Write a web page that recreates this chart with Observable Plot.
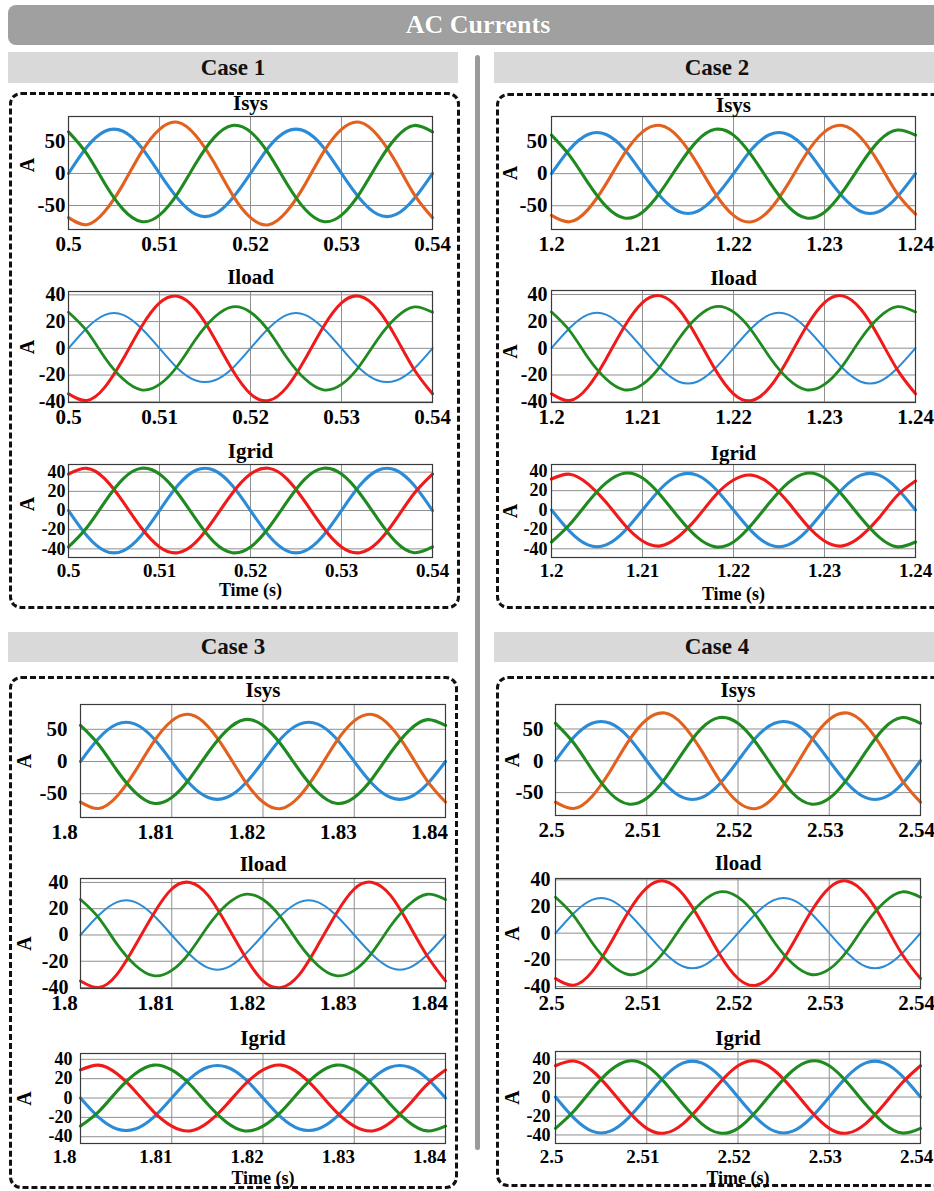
<!DOCTYPE html>
<html>
<head>
<meta charset="utf-8">
<script src="https://cdn.jsdelivr.net/npm/d3@7"></script>
<script src="https://cdn.jsdelivr.net/npm/@observablehq/plot@0.6"></script>
<style>
  html, body { margin: 0; padding: 0; background: #fff; }
  #root { position: relative; width: 934px; height: 1191px; overflow: hidden;
          font-family: "Liberation Serif", "Times New Roman", serif; font-weight: bold; }
  .abs { position: absolute; box-sizing: border-box; }
  .hdr { display: flex; align-items: center; justify-content: center; }
</style>
</head>
<body>
<div id="root"></div>
<script>
// ---------------- DATA ----------------
const mainTitle = "AC Currents";
const caseNames = ["Case 1", "Case 2", "Case 3", "Case 4"];
const panelTitles = ["Isys", "Iload", "Igrid"];
const caseStarts = [0.5, 1.2, 1.8, 2.5];
const xTicksCase1 = [0.5, 0.51, 0.52, 0.53, 0.54];
const xTicksCase2 = [1.2, 1.21, 1.22, 1.23, 1.24];
const xTicksCase3 = [1.8, 1.81, 1.82, 1.83, 1.84];
const xTicksCase4 = [2.5, 2.51, 2.52, 2.53, 2.54];
const yTicksIsys = [-50, 0, 50];
const yTicksIload = [-40, -20, 0, 20, 40];
const yTicksIgrid = [-40, -20, 0, 20, 40];
// time offsets (s) from each window start
const tOffsets = [0, 0.002, 0.004, 0.006, 0.008, 0.010, 0.012, 0.014, 0.016, 0.018, 0.020,
                  0.022, 0.024, 0.026, 0.028, 0.030, 0.032, 0.034, 0.036, 0.038, 0.040];

// Case 1
const c1IsysBlue   = [0, 41, 66, 66, 41, 0, -39, -64, -64, -39, 0, 41, 66, 66, 41, 0, -39, -64, -64, -39, 0];
const c1IsysOrange = [-69, -80, -59, -17, 33, 69, 80, 59, 17, -33, -69, -80, -59, -17, 33, 69, 80, 59, 17, -33, -69];
const c1IsysGreen  = [65, 31, -16, -56, -75, -65, -31, 16, 56, 75, 65, 31, -16, -56, -75, -65, -31, 16, 56, 75, 65];
const c1IloadBlue  = [0, 15, 25, 25, 15, 0, -15, -24, -24, -15, 0, 15, 25, 25, 15, 0, -15, -24, -24, -15, 0];
const c1IloadRed   = [-34, -39, -29, -8, 16, 34, 39, 29, 8, -16, -34, -39, -29, -8, 16, 34, 39, 29, 8, -16, -34];
const c1IloadGreen = [27, 13, -7, -23, -31, -27, -13, 7, 23, 31, 27, 13, -7, -23, -31, -27, -13, 7, 23, 31, 27];
const c1IgridBlue  = [0, -26, -42, -42, -26, 0, 26, 42, 42, 26, 0, -26, -42, -42, -26, 0, 26, 42, 42, 26, 0];
const c1IgridRed   = [38, 44, 33, 9, -18, -38, -44, -33, -9, 18, 38, 44, 33, 9, -18, -38, -44, -33, -9, 18, 38];
const c1IgridGreen = [-38, -18, 9, 33, 44, 38, 18, -9, -33, -44, -38, -18, 9, 33, 44, 38, 18, -9, -33, -44, -38];

// Case 2
const c2IsysBlue   = [0, 38, 61, 61, 38, 0, -36, -59, -59, -36, 0, 38, 61, 61, 38, 0, -36, -59, -59, -36, 0];
const c2IsysOrange = [-65, -75, -56, -16, 31, 65, 75, 56, 16, -31, -65, -75, -56, -16, 31, 65, 75, 56, 16, -31, -63];
const c2IsysGreen  = [60, 28, -14, -51, -69, -60, -28, 14, 51, 69, 60, 28, -14, -51, -69, -60, -28, 14, 51, 68, 60];
const c2IloadBlue  = [0, 15, 25, 25, 15, 0, -15, -25, -25, -15, 0, 15, 25, 25, 15, 0, -15, -25, -25, -15, 0];
const c2IloadRed   = [-34, -39, -29, -8, 16, 34, 39, 29, 8, -16, -34, -39, -29, -8, 16, 34, 39, 29, 8, -16, -34];
const c2IloadGreen = [27, 13, -7, -23, -31, -27, -13, 7, 23, 31, 27, 13, -7, -23, -31, -27, -13, 7, 23, 31, 27];
const c2IgridBlue  = [0, -22, -36, -36, -22, 0, 22, 36, 36, 22, 0, -22, -36, -36, -22, 0, 22, 36, 36, 22, 0];
const c2IgridRed   = [32, 37, 27, 8, -15, -32, -37, -27, -8, 15, 31, 36, 27, 8, -15, -32, -37, -27, -8, 15, 30];
const c2IgridGreen = [-33, -15, 8, 28, 38, 33, 15, -8, -28, -38, -33, -15, 8, 28, 38, 33, 15, -8, -28, -38, -33];

// Case 3
const c3IsysBlue   = [0, 36, 58, 58, 36, 0, -35, -56, -56, -35, 0, 36, 58, 58, 36, 0, -35, -56, -56, -35, 0];
const c3IsysOrange = [-63, -73, -54, -15, 30, 63, 73, 54, 15, -30, -63, -73, -54, -15, 30, 63, 73, 54, 15, -30, -63];
const c3IsysGreen  = [56, 26, -14, -48, -65, -56, -26, 14, 48, 65, 56, 26, -14, -48, -65, -56, -26, 14, 48, 65, 56];
const c3IloadBlue  = [0, 15, 25, 25, 15, 0, -15, -25, -25, -15, 0, 15, 25, 25, 15, 0, -15, -25, -25, -15, 0];
const c3IloadRed   = [-35, -40, -30, -8, 16, 35, 40, 30, 8, -16, -35, -40, -30, -8, 16, 35, 40, 30, 8, -16, -35];
const c3IloadGreen = [27, 13, -7, -23, -31, -27, -13, 7, 23, 31, 27, 13, -7, -23, -31, -27, -13, 7, 23, 31, 27];
const c3IgridBlue  = [0, -20, -32, -32, -20, 0, 20, 32, 32, 20, 0, -20, -32, -32, -20, 0, 20, 32, 32, 20, 0];
const c3IgridRed   = [29, 34, 25, 7, -14, -29, -34, -25, -7, 14, 29, 34, 25, 7, -14, -29, -34, -25, -7, 14, 29];
const c3IgridGreen = [-29, -14, 7, 25, 34, 29, 14, -7, -25, -34, -29, -14, 7, 25, 34, 29, 14, -7, -25, -34, -29];

// Case 4
const c4IsysBlue   = [0, 37, 59, 59, 37, 0, -36, -58, -58, -36, 0, 37, 59, 59, 37, 0, -36, -58, -58, -36, 0];
const c4IsysOrange = [-65, -75, -56, -16, 31, 65, 75, 56, 16, -31, -65, -75, -56, -16, 31, 65, 75, 56, 16, -31, -65];
const c4IsysGreen  = [59, 28, -14, -51, -68, -59, -28, 14, 51, 68, 59, 28, -14, -51, -68, -59, -28, 14, 51, 68, 59];
const c4IloadBlue  = [0, 15, 25, 25, 15, 0, -15, -25, -25, -15, 0, 15, 25, 25, 15, 0, -15, -25, -25, -15, 0];
const c4IloadRed   = [-34, -39, -29, -8, 16, 34, 39, 29, 8, -16, -34, -39, -29, -8, 16, 34, 39, 29, 8, -16, -34];
const c4IloadGreen = [27, 13, -7, -23, -31, -27, -13, 7, 23, 31, 27, 13, -7, -23, -31, -27, -13, 7, 23, 31, 27];
const c4IgridBlue  = [0, -22, -36, -36, -22, 0, 22, 36, 36, 22, 0, -22, -36, -36, -22, 0, 22, 36, 36, 22, 0];
const c4IgridRed   = [33, 38, 28, 8, -15, -33, -38, -28, -8, 15, 33, 38, 28, 8, -15, -33, -38, -28, -8, 15, 33];
const c4IgridGreen = [-33, -15, 8, 28, 38, 33, 15, -8, -28, -38, -33, -15, 8, 28, 38, 33, 15, -8, -28, -38, -33];

// y-axis ranges per case / panel
const yRangesCase1 = [[-87.5, 89], [-40.5, 42.5], [-49, 48]];
const yRangesCase2 = [[-87, 89], [-40.5, 43], [-49, 47]];
const yRangesCase3 = [[-87, 88.5], [-40.75, 43], [-47, 46]];
const yRangesCase4 = [[-86, 88.5], [-41.5, 41], [-49, 48]];

// ---------------- assembly ----------------
const xTicksAll = [xTicksCase1, xTicksCase2, xTicksCase3, xTicksCase4];
const yTicksAll = [yTicksIsys, yTicksIload, yTicksIgrid];
const yRangesAll = [yRangesCase1, yRangesCase2, yRangesCase3, yRangesCase4];
const seriesAll = [
  [[c1IsysBlue, c1IsysOrange, c1IsysGreen], [c1IloadBlue, c1IloadRed, c1IloadGreen], [c1IgridBlue, c1IgridRed, c1IgridGreen]],
  [[c2IsysBlue, c2IsysOrange, c2IsysGreen], [c2IloadBlue, c2IloadRed, c2IloadGreen], [c2IgridBlue, c2IgridRed, c2IgridGreen]],
  [[c3IsysBlue, c3IsysOrange, c3IsysGreen], [c3IloadBlue, c3IloadRed, c3IloadGreen], [c3IgridBlue, c3IgridRed, c3IgridGreen]],
  [[c4IsysBlue, c4IsysOrange, c4IsysGreen], [c4IloadBlue, c4IloadRed, c4IloadGreen], [c4IgridBlue, c4IgridRed, c4IgridGreen]]
];

// ---------------- styles / layout ----------------
const FONT = "'Liberation Serif', 'Times New Roman', serif";
const rowColors = [
  ["#2b8bd6", "#e2611f", "#1f8a1f"],
  ["#2b8bd6", "#f01a1a", "#1f8a1f"],
  ["#2b8bd6", "#f01a1a", "#1f8a1f"]
];
const rowWidths = [[3.1, 3.1, 3.1], [2.0, 3.0, 2.8], [3.1, 3.1, 3.1]];
const rowYFont = [21, 20, 18];
const rowXFont = [21, 21, 19];
const rowXPad = [7, 7, 6];
const frameLeft = [68, 551, 80, 555];
const frameWidth = [364, 364, 365, 365];
const frameTops = [[116, 291, 464], [116, 290, 464], [704, 878, 1053], [704, 878, 1051]];
const frameBottoms = [[229, 402, 557], [229, 402, 557], [817, 988, 1143], [815, 988, 1143]];
const yPad = [[3, 3, 3], [4, 4, 4], [13, 12, 8], [12, 5, 5]];
const xShift = [0, 0, -16, -4];
const aOffset = [41, 41, 56, 43];
const aDy = [[-8, 0, -7], [0, 5, 0], [0, 10, 0], [0, 0, 0]];
const timeDy = [33, 37, 35, 35];
const titleDy = [[-13, -14, -13], [-11, -12, -11], [-14, -14, -15], [-14, -15, -13]];

const root = document.getElementById("root");
function box(css, text) {
  const d = document.createElement("div");
  d.className = "abs";
  d.style.cssText = css;
  if (text) { d.classList.add("hdr"); d.textContent = text; }
  root.appendChild(d);
  return d;
}

// main header
box("left:8px;top:5px;width:940px;height:40px;background:#a0a0a0;border-radius:8px;color:#fff;font-size:26px;text-shadow:0 0 1px #777;", mainTitle);
// case headers
box("left:8px;top:52px;width:450px;height:31px;background:#d9d9d9;font-size:23px;color:#111;", caseNames[0]);
box("left:494px;top:52px;width:446px;height:31px;background:#d9d9d9;font-size:23px;color:#111;", caseNames[1]);
box("left:8px;top:632px;width:450px;height:30px;background:#d9d9d9;font-size:23px;color:#111;", caseNames[2]);
box("left:494px;top:632px;width:446px;height:30px;background:#d9d9d9;font-size:23px;color:#111;", caseNames[3]);
// divider
box("left:475px;top:55px;width:5px;height:1095px;background:#9a9a9a;border-radius:3px;");
// dashed frames
box("left:9px;top:92px;width:451px;height:517px;border:3px dashed #111;border-radius:12px;");
box("left:496px;top:93px;width:460px;height:516px;border:3px dashed #111;border-radius:12px;");
box("left:9px;top:676px;width:449px;height:513px;border:3px dashed #111;border-radius:12px;");
box("left:496px;top:676px;width:460px;height:511px;border:3px dashed #111;border-radius:12px;");

const ML = 75, MR = 24, MT = 30, MB = 50;
const fmtX = d => String(+d.toFixed(2));

for (let c = 0; c < 4; c++) {
  const t0 = caseStarts[c];
  const xt = xTicksAll[c];
  for (let r = 0; r < 3; r++) {
    const fh = frameBottoms[c][r] - frameTops[c][r];
    const fw = frameWidth[c];
    const lines = seriesAll[c][r].map((vals, p) =>
      Plot.line(tOffsets.map((dt, i) => ({t: t0 + dt, v: vals[i]})), {
        x: "t", y: "v", stroke: rowColors[r][p], strokeWidth: rowWidths[r][p], curve: "natural"
      })
    );
    const marks = [
      Plot.gridX(xt.slice(1, -1), {stroke: "#8f8f8f", strokeOpacity: 1, strokeWidth: 1}),
      Plot.gridY(yTicksAll[r], {stroke: "#8f8f8f", strokeOpacity: 1, strokeWidth: 1}),
      ...lines,
      Plot.frame({stroke: "#3a3a3a", strokeWidth: 1.2}),
      Plot.axisX(xt, {tickSize: 0, tickPadding: rowXPad[r], tickFormat: fmtX, fontSize: rowXFont[r], fontWeight: "bold", fontFamily: FONT, dx: xShift[c], label: null}),
      Plot.axisY(yTicksAll[r], {tickSize: 0, tickPadding: yPad[c][r], tickFormat: d => String(d), fontSize: rowYFont[r], fontWeight: "bold", fontFamily: FONT, label: null}),
      Plot.text([panelTitles[r]], {text: d => d, frameAnchor: "top", lineAnchor: "middle", dy: titleDy[c][r], fontSize: 21, fontWeight: "bold", fontFamily: FONT}),
      Plot.text(["A"], {text: d => d, frameAnchor: "left", textAnchor: "middle", lineAnchor: "middle", dx: -aOffset[c], dy: aDy[c][r], rotate: -90, fontSize: 20, fontWeight: "bold", fontFamily: FONT})
    ];
    if (r === 2) {
      marks.push(Plot.text(["Time (s)"], {text: d => d, frameAnchor: "bottom", lineAnchor: "middle", dy: timeDy[c], fontSize: 18, fontWeight: "bold", fontFamily: FONT}));
    }
    const svg = Plot.plot({
      width: fw + ML + MR,
      height: fh + MT + MB,
      marginLeft: ML, marginRight: MR, marginTop: MT, marginBottom: MB,
      style: {fontFamily: FONT, fontWeight: "bold", color: "#000", background: "transparent", overflow: "visible"},
      x: {domain: [t0, t0 + 0.04]},
      y: {domain: yRangesAll[c][r]},
      marks
    });
    svg.style.position = "absolute";
    svg.style.left = (frameLeft[c] - ML) + "px";
    svg.style.top = (frameTops[c][r] - MT) + "px";
    root.appendChild(svg);
  }
}
</script>
</body>
</html>
